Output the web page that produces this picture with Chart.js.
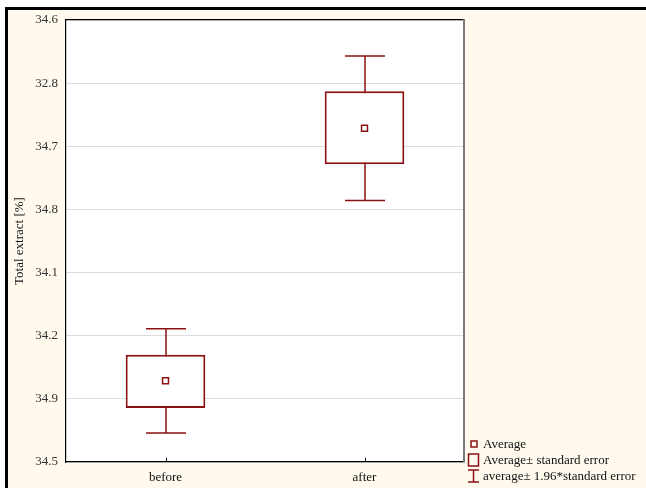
<!DOCTYPE html>
<html>
<head>
<meta charset="utf-8">
<script src="https://cdn.jsdelivr.net/npm/chart.js@4/dist/chart.umd.min.js"></script>
<style>
  html, body { margin: 0; padding: 0; background: #ffffff; }
  #wrap { width: 646px; height: 488px; }
</style>
</head>
<body>
<div id="wrap"><canvas id="grafica" width="646" height="488"></canvas></div>
<script>
// === Datos ===
const categorias = ['before', 'after'];
const promedios = [1.286, 5.286];
const errorInferior = [0.857, 4.714];
const errorSuperior = [1.698, 5.873];
const intervaloInferior = [0.46, 4.143];
const intervaloSuperior = [2.111, 6.429];
const etiquetasEjeY = ['34.5', '34.9', '34.2', '34.1', '34.8', '34.7', '32.8', '34.6'];
const textosLeyenda = ['Average', 'Average\u00b1 standard error', 'average\u00b1 1.96*standard error'];

const ROJO = '#8b1212';
const CREMA = '#fff9ee';
const FUENTE = '"Liberation Serif", "DejaVu Serif", serif';

// fondo crema y marco exterior
const fondoPlugin = {
  id: 'fondo',
  beforeDraw(chart) {
    const ctx = chart.ctx;
    const area = chart.chartArea;
    ctx.save();
    ctx.fillStyle = '#ffffff';
    ctx.fillRect(0, 0, chart.width, chart.height);
    ctx.fillStyle = CREMA;
    ctx.fillRect(6, 8, chart.width - 6, chart.height - 8);
    ctx.fillStyle = '#000000';
    ctx.fillRect(5, 7, chart.width - 5, 3);
    ctx.fillRect(5, 7, 3, chart.height - 7);
    ctx.fillStyle = '#ffffff';
    ctx.fillRect(area.left, area.top, area.right - area.left, area.bottom - area.top);
    ctx.restore();
  }
};

// bigotes (1.96 * error estandar) detras de las cajas
const bigotesPlugin = {
  id: 'bigotes',
  beforeDatasetsDraw(chart) {
    const ctx = chart.ctx;
    const x = chart.scales.x;
    const y = chart.scales.y;
    ctx.save();
    ctx.strokeStyle = ROJO;
    ctx.lineWidth = 1.5;
    categorias.forEach((c, i) => {
      const cx = Math.round(x.getPixelForValue(i));
      const yTop = y.getPixelForValue(intervaloSuperior[i]);
      const yBot = y.getPixelForValue(intervaloInferior[i]);
      ctx.beginPath();
      ctx.moveTo(cx, yTop);
      ctx.lineTo(cx, yBot);
      ctx.moveTo(cx - 20, yTop);
      ctx.lineTo(cx + 20, yTop);
      ctx.moveTo(cx - 20, yBot);
      ctx.lineTo(cx + 20, yBot);
      ctx.stroke();
    });
    ctx.restore();
  },
  afterDatasetsDraw(chart) {
    const ctx = chart.ctx;
    const area = chart.chartArea;
    const x = chart.scales.x;
    ctx.save();
    // marco superior y derecho
    ctx.fillStyle = '#000000';
    ctx.fillRect(area.left, area.top - 1, area.right - area.left, 1.2);
    ctx.fillStyle = '#7a7a7a';
    ctx.fillRect(area.right - 1, area.top - 1, 2, area.bottom - area.top + 1);
    // pequeñas marcas en el eje x
    ctx.strokeStyle = '#000000';
    ctx.lineWidth = 1;
    categorias.forEach((c, i) => {
      const cx = Math.round(x.getPixelForValue(i)) + 0.5;
      ctx.beginPath();
      ctx.moveTo(cx, area.bottom);
      ctx.lineTo(cx, area.bottom - 4);
      ctx.stroke();
    });
    ctx.restore();
  }
};

// leyenda dibujada a mano
const leyendaPlugin = {
  id: 'leyendaPropia',
  afterDraw(chart) {
    const ctx = chart.ctx;
    const x0 = 468;
    const filas = [444, 460, 476];
    ctx.save();
    ctx.strokeStyle = ROJO;
    ctx.lineWidth = 1.5;
    ctx.strokeRect(x0 + 3, filas[0] - 3, 6, 6);
    ctx.strokeRect(x0 + 0.5, filas[1] - 6, 10, 12);
    ctx.beginPath();
    ctx.moveTo(x0 + 5.5, filas[2] - 6);
    ctx.lineTo(x0 + 5.5, filas[2] + 6);
    ctx.moveTo(x0, filas[2] - 6);
    ctx.lineTo(x0 + 11, filas[2] - 6);
    ctx.moveTo(x0, filas[2] + 6);
    ctx.lineTo(x0 + 11, filas[2] + 6);
    ctx.stroke();
    ctx.fillStyle = '#111111';
    ctx.font = '13px ' + FUENTE;
    ctx.textBaseline = 'middle';
    textosLeyenda.forEach((t, i) => ctx.fillText(t, x0 + 15, filas[i] + 0.5));
    ctx.restore();
  }
};

const grafica = new Chart(document.getElementById('grafica'), {
  data: {
    labels: categorias,
    datasets: [
      {
        type: 'line',
        label: 'Average',
        data: promedios,
        showLine: false,
        pointStyle: 'rect',
        pointRadius: 4.2,
        pointBorderWidth: 1.5,
        pointBackgroundColor: '#ffffff',
        pointBorderColor: ROJO,
        order: 0
      },
      {
        type: 'bar',
        label: 'Average\u00b1 standard error',
        data: categorias.map((c, i) => [errorInferior[i], errorSuperior[i]]),
        backgroundColor: '#ffffff',
        borderColor: ROJO,
        borderWidth: 2,
        borderSkipped: false,
        barPercentage: 0.4,
        categoryPercentage: 1,
        order: 1
      }
    ]
  },
  options: {
    responsive: false,
    animation: false,
    devicePixelRatio: 1,
    layout: { padding: { left: 0, top: 20, right: 182, bottom: 0 } },
    plugins: { legend: { display: false }, tooltip: { enabled: false } },
    scales: {
      x: {
        type: 'category',
        grid: { display: false, drawTicks: false },
        border: { color: '#000000', width: 1.2 },
        ticks: { color: '#111111', font: { family: FUENTE, size: 13 }, padding: 8 },
        afterFit(scale) { scale.height = 26; }
      },
      y: {
        type: 'linear',
        min: 0,
        max: 7,
        grid: { color: '#dcdcdc', lineWidth: 1, drawTicks: false },
        border: { color: '#000000', width: 1.2 },
        ticks: {
          stepSize: 1,
          color: '#333333',
          font: { family: FUENTE, size: 13 },
          padding: 8,
          callback: (v) => etiquetasEjeY[v]
        },
        title: {
          display: true,
          text: 'Total extract [%]',
          color: '#111111',
          font: { family: FUENTE, size: 13 },
          padding: { top: 12, bottom: 0 }
        },
        afterFit(scale) { scale.width = 66; }
      }
    }
  },
  plugins: [fondoPlugin, bigotesPlugin, leyendaPlugin]
});
</script>
</body>
</html>
